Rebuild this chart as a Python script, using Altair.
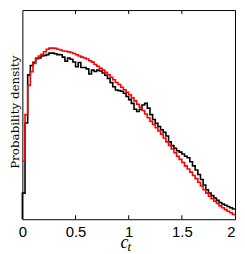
import altair as alt
import pandas as pd

bin_width = 0.025
edges = [round(i * bin_width, 4) for i in range(81)]

black_density = [
    0.125, 0.460, 0.690, 0.735, 0.750, 0.768, 0.771, 0.780, 0.783, 0.787,
    0.794, 0.794, 0.791, 0.787, 0.786, 0.775, 0.755, 0.771, 0.765, 0.752,
    0.729, 0.749, 0.725, 0.725, 0.719, 0.694, 0.713, 0.706, 0.713, 0.709,
    0.699, 0.688, 0.673, 0.653, 0.633, 0.618, 0.615, 0.612, 0.602, 0.587,
    0.572, 0.554, 0.526, 0.515, 0.526, 0.546, 0.554, 0.531, 0.500, 0.477,
    0.459, 0.443, 0.428, 0.416, 0.398, 0.370, 0.352, 0.339, 0.327, 0.321,
    0.312, 0.301, 0.294, 0.275, 0.255, 0.235, 0.214, 0.190, 0.164, 0.141,
    0.125, 0.113, 0.101, 0.090, 0.080, 0.073, 0.067, 0.061, 0.055, 0.049,
]

red_density = [
    0.278, 0.500, 0.640, 0.705, 0.745, 0.771, 0.780, 0.789, 0.801, 0.813,
    0.818, 0.818, 0.817, 0.813, 0.809, 0.804, 0.803, 0.800, 0.797, 0.792,
    0.786, 0.780, 0.775, 0.771, 0.766, 0.758, 0.751, 0.740, 0.731, 0.722,
    0.713, 0.702, 0.691, 0.679, 0.667, 0.654, 0.644, 0.631, 0.619, 0.607,
    0.595, 0.580, 0.566, 0.550, 0.535, 0.520, 0.503, 0.485, 0.468, 0.453,
    0.437, 0.422, 0.407, 0.388, 0.370, 0.353, 0.336, 0.318, 0.301, 0.286,
    0.271, 0.255, 0.240, 0.225, 0.209, 0.194, 0.177, 0.159, 0.141, 0.125,
    0.110, 0.098, 0.086, 0.075, 0.064, 0.055, 0.046, 0.038, 0.031, 0.023,
]

tick_values = [0.5, 1.0, 1.5]
x_ticks = [0, 0.5, 1, 1.5, 2]

W, H = 214.5, 211
PAD_LEFT = 14.5


def step_frame(vals, start_zero=False):
    xs = list(edges[:-1]) + [edges[-1]]
    ys = list(vals) + [vals[-1]]
    if start_zero:
        xs = [0.0] + xs
        ys = [0.0] + ys
    return pd.DataFrame({"x": xs, "y": ys, "o": range(len(xs))})


xscale = alt.Scale(domain=[0, 2], nice=False, zero=False)
yscale = alt.Scale(domain=[0, 1], nice=False)

xaxis = alt.Axis(
    values=x_ticks, title=None, domain=False, ticks=False, grid=False,
    labelFont="Liberation Sans", labelFontSize=15, labelColor="black",
    labelPadding=5, labelFlush=False,
    labelAlign=alt.expr("datum.value == 2 ? 'right' : 'center'"),
    labelExpr="datum.value == 0 ? '0' : datum.value == 2 ? '2' : format(datum.value, '.1~f')",
)

black = alt.Chart(step_frame(black_density, True)).mark_line(
    interpolate="step-after", color="black", strokeWidth=1.6
).encode(
    x=alt.X("x:Q", scale=xscale, axis=xaxis),
    y=alt.Y("y:Q", scale=yscale, axis=None),
    order="o:Q",
)

red = alt.Chart(step_frame(red_density)).mark_line(
    interpolate="step-after", color="#ff0000", strokeWidth=1.6
).encode(
    x=alt.X("x:Q", scale=xscale),
    y=alt.Y("y:Q", scale=yscale),
    order="o:Q",
)

ticks_df = pd.DataFrame({"t": tick_values})
bottom_ticks = alt.Chart(ticks_df).mark_rule(color="black", strokeWidth=1).encode(
    x=alt.X("t:Q", scale=xscale), y=alt.value(H), y2=alt.value(H - 4)
)
top_ticks = alt.Chart(ticks_df).mark_rule(color="black", strokeWidth=1).encode(
    x=alt.X("t:Q", scale=xscale), y=alt.value(0), y2=alt.value(4)
)

ytitle = alt.Chart(pd.DataFrame({"s": ["Probability density"]})).mark_text(
    font="DejaVu Serif", fontSize=12, angle=270, align="center",
    baseline="alphabetic", color="black"
).encode(text="s:N", x=alt.value(19.5 - 8 - PAD_LEFT), y=alt.value(103))

xt_c = alt.Chart(pd.DataFrame({"s": ["c"]})).mark_text(
    font="Liberation Serif", fontSize=18, fontStyle="italic", align="left",
    baseline="alphabetic", color="black"
).encode(text="s:N", x=alt.value(99), y=alt.value(240.5))

xt_t = alt.Chart(pd.DataFrame({"s": ["t"]})).mark_text(
    font="Liberation Serif", fontSize=13, fontStyle="italic", align="left",
    baseline="alphabetic", color="black"
).encode(text="s:N", x=alt.value(106), y=alt.value(243))

chart = alt.layer(
    black, red, bottom_ticks, top_ticks, ytitle, xt_c, xt_t
).properties(
    width=W, height=H,
    padding={"left": PAD_LEFT, "top": 1, "right": 2, "bottom": 34},
    autosize=alt.AutoSizeParams(type="none"),
    background="white",
).configure_view(stroke="black", strokeWidth=1)

chart.save("out.html", embed_options={"renderer": "svg", "actions": False})
